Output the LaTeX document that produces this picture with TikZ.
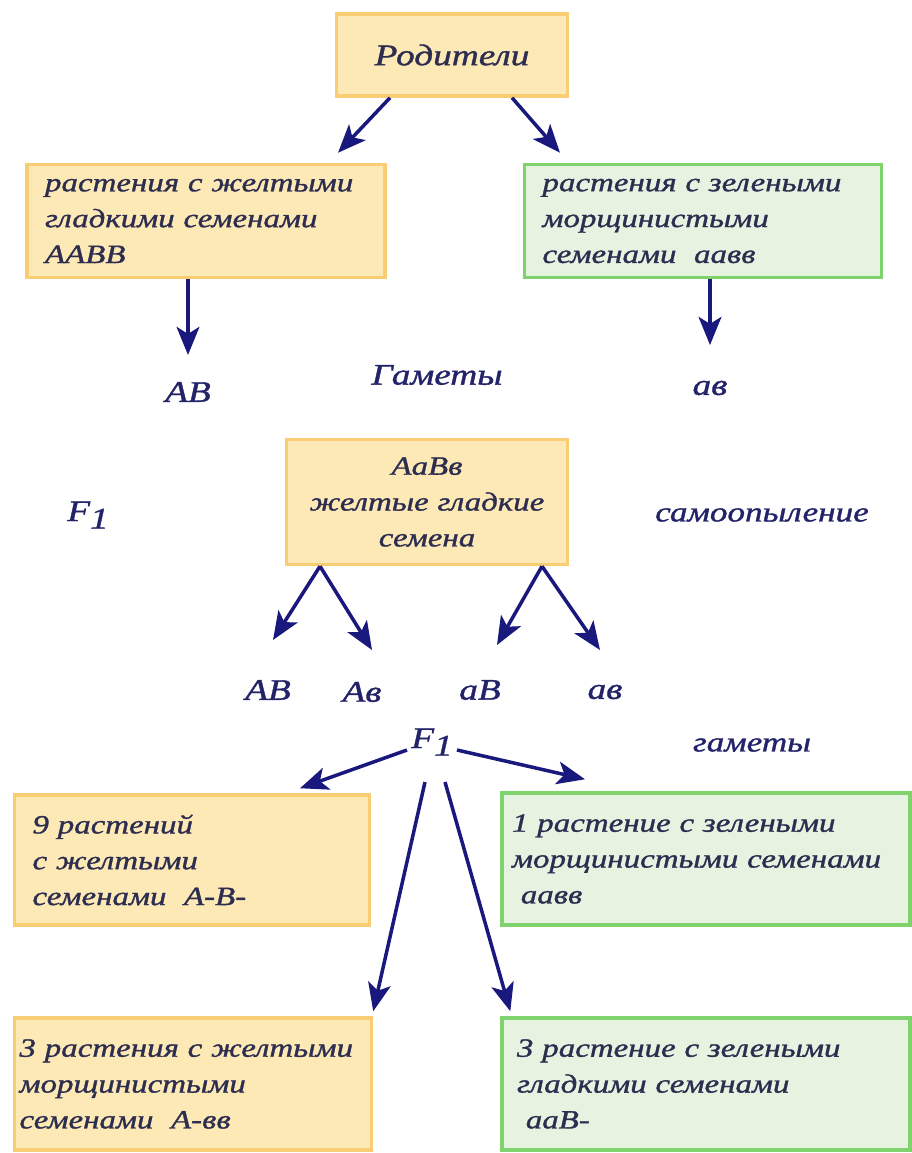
\documentclass[tikz,border=0pt]{standalone}
\usepackage{fontspec}
\setmainfont{Liberation Serif}
\newfontfamily\widefont{Liberation Serif}[FakeStretch=1.25, FakeBold=1.2]
\usetikzlibrary{arrows.meta,calc}

\newcommand{\Fone}{F\raisebox{-0.55ex}{1}}

\begin{document}
\begin{tikzpicture}[x=0.02cm, y=-0.02cm,
    yellowbox/.style={rectangle, draw=yellowline, fill=yellowfill, line width=2pt, align=left, inner xsep=0.36cm, inner ysep=0pt, text=textcol, font=\widefont\itshape\fontsize{15}{20.4}\selectfont},
    greenbox/.style={yellowbox, draw=greenline, fill=greenfill},
    gamete/.style={text=labelcol, font=\widefont\itshape\fontsize{17}{20}\selectfont},
    arr/.style={-{Stealth[length=16pt, width=13pt, inset=4pt]}, line width=2pt, draw=arrowcol}]
    % Define colors
    \definecolor{yellowline}{RGB}{248, 205, 115}
    \definecolor{yellowfill}{RGB}{253, 233, 182}
    \definecolor{greenline}{RGB}{128, 210, 108}
    \definecolor{greenfill}{RGB}{230, 243, 225}
    \definecolor{textcol}{RGB}{45, 45, 80}
    \definecolor{labelcol}{RGB}{35, 35, 105}
    \definecolor{arrowcol}{RGB}{25, 25, 125}

    \useasboundingbox (0,0) rectangle (912,1153);

    % Parents
    \node[yellowbox, align=center, text width=3.9cm, minimum height=1.64cm, font=\widefont\itshape\fontsize{17}{20}\selectfont] (par) at (452, 55) {Родители};

    % Parent plants
    \node[yellowbox, text width=6.44cm, minimum height=2.26cm] (lbox) at (206, 221) {растения с желтыми\\гладкими семенами\\AABB};
    \node[greenbox, text width=6.42cm, minimum height=2.26cm] (rbox) at (703, 221) {растения с зелеными\\морщинистыми\\семенами\ \ аавв};

    % Gametes of parents
    \node[gamete] (gAB) at (188, 392) {AB};
    \node[gamete] (gam) at (437, 375) {Гаметы};
    \node[gamete] (gab) at (710, 388) {ав};

    % Hybrid
    \node[yellowbox, align=center, text width=4.9cm, minimum height=2.5cm] (hyb) at (427, 502) {AaBв\\желтые гладкие\\семена};
    \node[gamete] (fone) at (88, 515) {\Fone};
    \node[gamete, font=\widefont\itshape\fontsize{16}{18}\selectfont] (self) at (762, 515) {самоопыление};

    % Gametes of hybrid
    \node[gamete] (g1) at (268, 690) {AB};
    \node[gamete] (g2) at (362, 692) {Aв};
    \node[gamete] (g3) at (480, 690) {aB};
    \node[gamete] (g4) at (605, 692) {ав};
    \node[gamete] (ftwo) at (432, 742) {\Fone};
    \node[gamete, font=\widefont\itshape\fontsize{16}{18}\selectfont] (gam2) at (752, 745) {гаметы};

    % Offspring
    \node[yellowbox, text width=6.38cm, minimum height=2.6cm] (nine) at (192, 860) {9 растений\\с желтыми\\семенами\ \ A-B-};
    \node[greenbox, inner xsep=0.2cm, text width=7.76cm, minimum height=2.64cm] (one) at (706, 859) {1 растение с зелеными\\морщинистыми семенами\\\ аавв};
    \node[yellowbox, inner xsep=0.1cm, text width=6.94cm, minimum height=2.64cm] (three) at (193, 1084) {3 растения с желтыми\\морщинистыми\\семенами\ \ A-вв};
    \node[greenbox, inner xsep=0.3cm, text width=7.56cm, minimum height=2.64cm] (threeg) at (706, 1084) {3 растение с зелеными\\гладкими семенами\\\ ааB-};

    % Arrows
    \draw[arr] ($(par.south)+(-62,0)$) -- ($(lbox.north)+(132,-10)$);
    \draw[arr] ($(par.south)+(60,0)$) -- ($(rbox.north)+(-143,-10)$);
    \draw[arr] (lbox.south -| gAB) -- ($(gAB)+(0,-37)$);
    \draw[arr] (rbox.south -| gab) -- ($(gab)+(0,-43)$);
    \draw[arr] ($(hyb.south)+(-107,0)$) -- ($(g1)+(5,-50)$);
    \draw[arr] ($(hyb.south)+(-107,0)$) -- ($(g2)+(10,-42)$);
    \draw[arr] ($(hyb.south)+(115,0)$) -- ($(g3)+(17,-45)$);
    \draw[arr] ($(hyb.south)+(115,0)$) -- ($(g4)+(-5,-42)$);
    \draw[arr] ($(ftwo)+(-25,8)$) -- ($(nine.north)+(108,-5)$);
    \draw[arr] ($(ftwo)+(25,8)$) -- ($(one.north)+(-121,-12)$);
    \draw[arr] ($(ftwo)+(-7,40)$) -- ($(three.north east)+(0,-5)$);
    \draw[arr] ($(ftwo)+(13,40)$) -- ($(threeg.north west)+(10,-5)$);
\end{tikzpicture}
\end{document}
